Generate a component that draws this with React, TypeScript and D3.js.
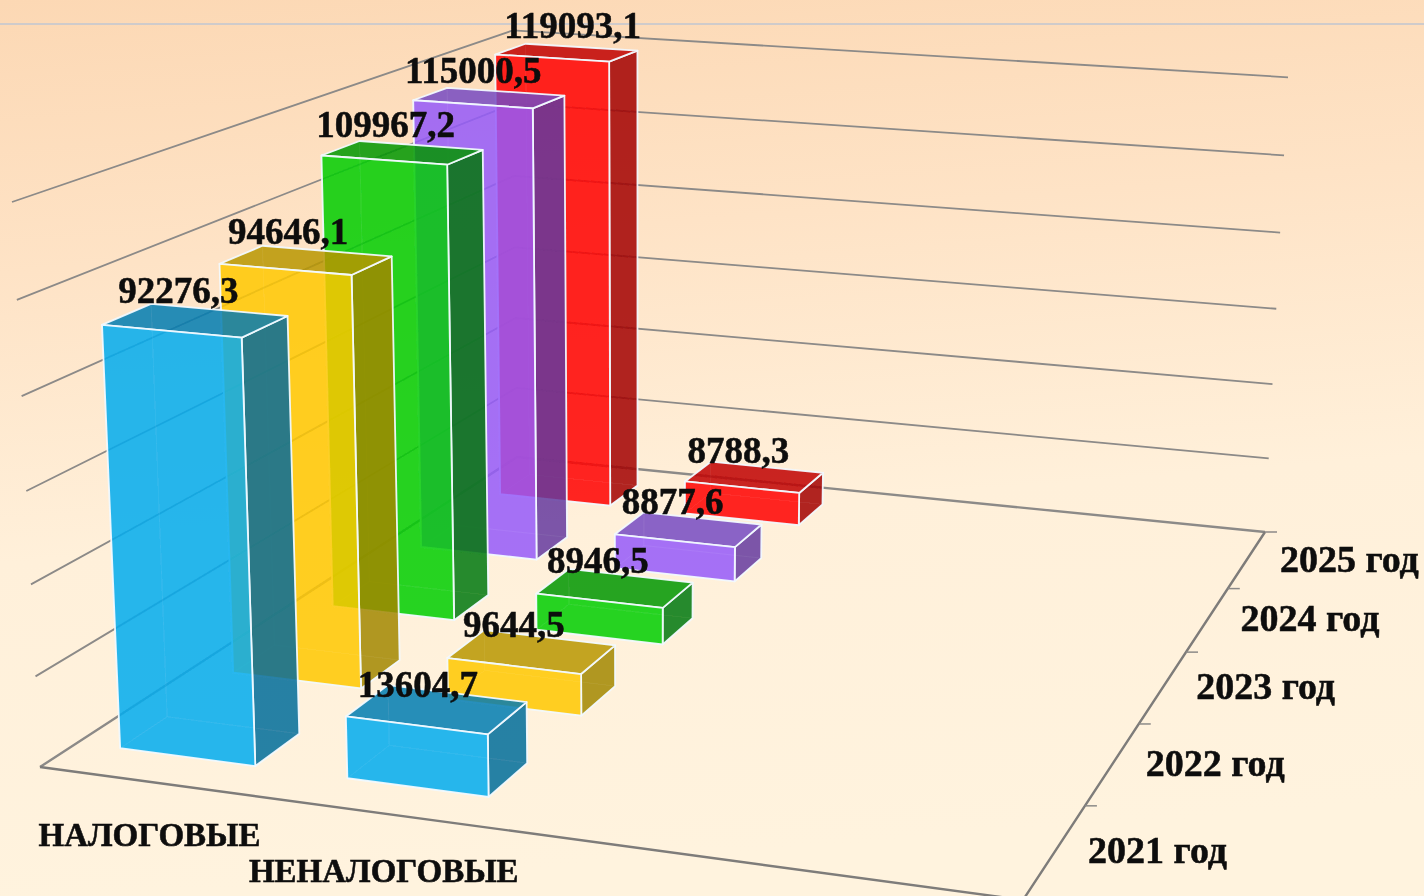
import React from "react";
import * as d3 from "d3";

// ---------- data ----------
const categories = ["НАЛОГОВЫЕ", "НЕНАЛОГОВЫЕ", "", ""];
const years = ["2021 год", "2022 год", "2023 год", "2024 год", "2025 год"];
const taxValues = [92276.3, 94646.1, 109967.2, 115000.5, 119093.1];
const nonTaxValues = [13604.7, 9644.5, 8946.5, 8877.6, 8788.3];
const valueLabels = [
  ["92276,3", "94646,1", "109967,2", "115000,5", "119093,1"],
  ["13604,7", "9644,5", "8946,5", "8877,6", "8788,3"],
];
const gridTicks = [0, 20000, 40000, 60000, 80000, 100000, 120000];
const depthTicks = [0, 0.2, 0.4, 0.6, 0.8, 1];

// ---------- styles ----------
const frontFill = ["#03ACEF", "#FFC800", "#03CE05", "#955AFA", "#FF0000"];
const sideFill = ["#056C9A", "#A28700", "#00780A", "#643B9F", "#A20000"];
const topFill = ["#057DB1", "#B89600", "#019701", "#764BC2", "#C00000"];
const labelFont = "'Liberation Serif','Times New Roman',serif";

// ---------- projection: a true perspective view of the 3D box ----------
type P = [number, number];
const cornerFL: P = [40, 767];
const cornerFR: P = [1023, 900];
const cornerBR: P = [1265, 532];
const cornerBL: P = [517, 457];
const topFL: P = [12, 202];
const topBR: P = [1288, 73];

function buildProjection() {
  const [x0, y0] = cornerFL, [x1, y1] = cornerFR, [x2, y2] = cornerBR, [x3, y3] = cornerBL;
  const dx1 = x1 - x2, dx2 = x3 - x2, sx = x0 - x1 + x2 - x3;
  const dy1 = y1 - y2, dy2 = y3 - y2, sy = y0 - y1 + y2 - y3;
  const det = dx1 * dy2 - dx2 * dy1;
  const g = (sx * dy2 - dx2 * sy) / det;
  const h = (dx1 * sy - sx * dy1) / det;
  const a = x1 - x0 + g * x1, b = x3 - x0 + h * x3;
  const d = y1 - y0 + g * y1, e = y3 - y0 + h * y3;
  const w1 = 1 + g + h, nx1 = a + b + x0, ny1 = d + e + y0;
  const r = (nx1 + topFL[0] - x0 - topBR[0] * w1) / (topBR[0] - topFL[0]);
  const p = topFL[0] * (1 + r) - x0;
  const q = topFL[1] * (1 + r) - y0;
  return (u: number, v: number, t: number): P => {
    const w = g * u + h * v + 1 + r * t;
    return [(a * u + b * v + x0 + p * t) / w, (d * u + e * v + y0 + q * t) / w];
  };
}
const project = buildProjection();

const uScale = d3.scaleBand<number>().domain(d3.range(categories.length)).range([-0.002, 0.998]).paddingInner(0.4).paddingOuter(0.2);
const vScale = d3.scaleBand<number>().domain(d3.range(years.length)).range([0, 1]).paddingInner(0.6).paddingOuter(0.3);
const hScale = d3.scaleLinear().domain([0, 120000]).range([0, 1]);
const poly = d3.line<P>();
const closed = (pts: P[]) => poly(pts) + "Z";

const labelShift: P[][] = [
  [[-17, -17], [-18, -16], [-17, -16], [-16, -15], [6, -15]],
  [[-19, -12], [-18, -15], [-17, -15], [-16, -15], [-16, -14]],
];
const categoryDrop = [64, 68];

function Bar({ cat, yr, value }: { cat: number; yr: number; value: number }) {
  const u0 = uScale(cat)!, u1 = u0 + uScale.bandwidth();
  const v0 = vScale(yr)!, v1 = v0 + vScale.bandwidth();
  const t = hScale(value);
  const A = project(u0, v0, 0), B = project(u1, v0, 0), C = project(u1, v1, 0), D = project(u0, v1, 0);
  const E = project(u0, v0, t), F = project(u1, v0, t), G = project(u1, v1, t), H = project(u0, v1, t);
  const edge = { stroke: "#F2FAFF", strokeOpacity: 0.95, strokeWidth: 1.8, strokeLinejoin: "round" as const };
  return (
    <g>
      <path d={closed([B, C, G, F])} fill={sideFill[yr]} fillOpacity={0.85} {...edge} />
      <path d={closed([E, F, G, H])} fill={topFill[yr]} fillOpacity={0.85} {...edge} />
      <path d={closed([A, B, F, E])} fill={frontFill[yr]} fillOpacity={0.85} {...edge} />
      <path d={poly([A, D, C]) + (poly([D, H]) as string)} fill="none" stroke="#ffffff" strokeOpacity={0.06} strokeWidth={1} />
    </g>
  );
}

export default function App() {
  const rows = d3.range(years.length).reverse();
  const series = [taxValues, nonTaxValues];
  const bold = { stroke: "#0A0A0A", strokeWidth: 0.5 };
  return (
    <svg width={1424} height={896} viewBox="0 0 1424 896" style={{ position: "absolute", left: 0, top: 0, display: "block" }}>
      <defs>
        <linearGradient id="bg" x1="0" y1="0" x2="0.12" y2="1">
          <stop offset="0" stopColor="#FCD8B4" />
          <stop offset="0.3" stopColor="#FEE3C6" />
          <stop offset="0.62" stopColor="#FFF0DA" />
          <stop offset="1" stopColor="#FFF3DE" />
        </linearGradient>
        <filter id="soft" x="-2%" y="-2%" width="104%" height="104%">
          <feGaussianBlur stdDeviation="0.55" />
        </filter>
      </defs>
      <rect width={1424} height={896} fill="url(#bg)" />
      <g filter="url(#soft)">
        <rect x={0} y={23} width={1424} height={2} fill="#CFCBCB" />
        {gridTicks.map((tick) => {
          const t = hScale(tick);
          return (
            <path key={tick} d={poly([project(0, 0, t), project(0, 1, t), project(1, 1, t)]) as string} fill="none" stroke="#8C8A88" strokeWidth={tick === 0 ? 2.4 : 1.8} />
          );
        })}
        <path d={poly([project(0, 0, 0), project(1, 0, 0), project(1, 1, 0)]) as string} fill="none" stroke="#7E7C7A" strokeWidth={2.4} />
        {depthTicks.map((v) => {
          const [x, y] = project(1, v, 0);
          return <path key={v} d={poly([[x, y], [x + 12, y]]) as string} stroke="#8C8A88" strokeWidth={1.5} fill="none" />;
        })}
        {rows.map((yr) => (
          <g key={yr}>
            {series.map((vals, cat) => (
              <Bar key={cat} cat={cat} yr={yr} value={vals[yr]} />
            ))}
          </g>
        ))}
        <g fontFamily={labelFont} fontWeight={700} fill="#0A0A0A" {...bold}>
          {series.map((vals, cat) =>
            vals.map((val, yr) => {
              const u = uScale(cat)! + uScale.bandwidth() / 2;
              const v = vScale(yr)! + vScale.bandwidth() / 2;
              const [x, y] = project(u, v, hScale(val));
              const [dx, dy] = labelShift[cat][yr];
              return (
                <text key={`${cat}-${yr}`} x={x + dx} y={y + dy} textAnchor="middle" fontSize={37}>
                  {valueLabels[cat][yr]}
                </text>
              );
            })
          )}
          {years.map((label, yr) => {
            const [x, y] = project(1, vScale(yr)! + vScale.bandwidth() / 2, 0);
            return (
              <text key={label} x={x + 33} y={y + 12} fontSize={38}>
                {label}
              </text>
            );
          })}
          {categories.map((label, cat) => {
            if (!label) return null;
            const [x, y] = project(uScale(cat)! + uScale.bandwidth() / 2, 0, 0);
            return (
              <text key={label} x={x - 2} y={y + categoryDrop[cat]} textAnchor="middle" fontSize={33}>
                {label}
              </text>
            );
          })}
        </g>
      </g>
    </svg>
  );
}
